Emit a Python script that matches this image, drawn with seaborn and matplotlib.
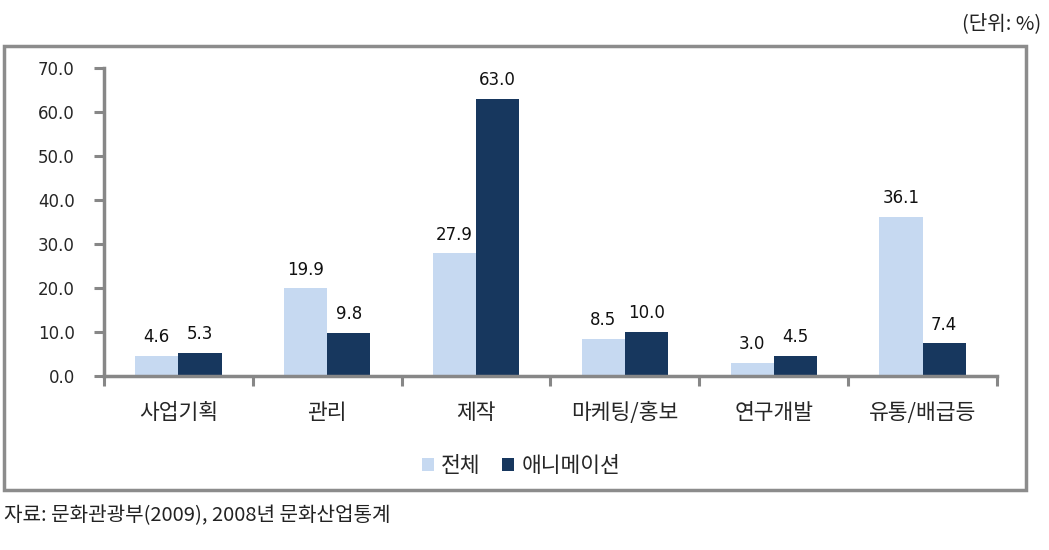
import matplotlib
matplotlib.use("Agg")
import matplotlib.pyplot as plt
import seaborn as sns
import pandas as pd
from matplotlib.patches import Rectangle, Patch
from matplotlib.ticker import FixedLocator

categories = ["사업기획", "관리", "제작", "마케팅/홍보", "연구개발", "유통/배급등"]
total = [4.6, 19.9, 27.9, 8.5, 3.0, 36.1]
animation = [5.3, 9.8, 63.0, 10.0, 4.5, 7.4]
series_names = ["전체", "애니메이션"]
yticks = [0, 10, 20, 30, 40, 50, 60, 70]

df = pd.DataFrame({
    "cat": categories * 2,
    "val": total + animation,
    "series": [series_names[0]] * len(categories) + [series_names[1]] * len(categories),
})

sns.set_style("white")
plt.rcParams['font.family'] = ['Noto Sans CJK KR', 'DejaVu Sans']

fig = plt.figure(figsize=(10.49, 5.5), dpi=100)
W, H = 1049, 550
ax = fig.add_axes([104 / W, 1 - 376 / H, (997 - 104) / W, (376 - 68) / H])

colors = ["#C6D9F1", "#17375E"]
sns.barplot(data=df, x="cat", y="val", hue="series", palette=colors,
            width=0.58, ax=ax, saturation=1, legend=False, errorbar=None,
            edgecolor="none")

for cont in ax.containers:
    ax.bar_label(cont, fmt="%.1f", padding=7, fontsize=12,
                 fontfamily="DejaVu Sans", color="#111111")

ax.set_ylim(0, 70)
ax.set_xlim(-0.5, len(categories) - 0.5)
ax.set_yticks(yticks)
ax.set_yticklabels([f"{v:.1f}" for v in yticks], fontfamily="DejaVu Sans", fontsize=12)
ax.set_xlabel("")
ax.set_ylabel("")
ax.set_xticks(range(len(categories)))
ax.set_xticklabels(categories, fontsize=15.5)
ax.tick_params(axis="x", which="major", bottom=True, length=0, pad=19)
ax.xaxis.set_minor_locator(FixedLocator([i - 0.5 for i in range(len(categories) + 1)]))
ax.tick_params(axis="x", which="minor", bottom=True, length=7, width=2.2,
               color="#878787", direction="out")
ax.tick_params(axis="y", left=True, length=7, width=2.2, color="#878787",
               direction="out", pad=14)

for s in ["top", "right"]:
    ax.spines[s].set_visible(False)
for s in ["left", "bottom"]:
    ax.spines[s].set_color("#878787")
    ax.spines[s].set_linewidth(2.5)

handles = [Patch(facecolor=c, edgecolor="none") for c in colors]
fig.legend(handles, series_names, loc="center", bbox_to_anchor=(521 / W, 1 - 466 / H),
           ncol=2, frameon=False, fontsize=15.5, handlelength=0.55, handleheight=0.55,
           handletextpad=0.35, columnspacing=1.0)

fig.patches.append(Rectangle((4 / W, 1 - 490 / H), (1026 - 4) / W, (490 - 46) / H,
                             transform=fig.transFigure, fill=False,
                             edgecolor="#8C8C8C", linewidth=2.5))

fig.text(1041 / W, 1 - 24 / H, "(단위: %)", ha="right", va="center", fontsize=14.5, color="#222222")
fig.text(4 / W, 1 - 516 / H, "자료: 문화관광부(2009), 2008년 문화산업통계", ha="left", va="center",
         fontsize=14.5, color="#222222")

fig.savefig("out.png", dpi=100)
